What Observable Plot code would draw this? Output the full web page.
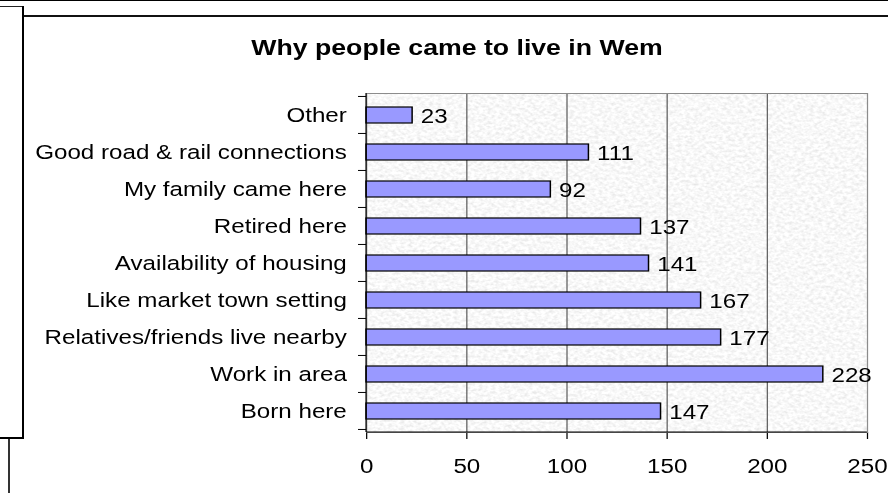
<!DOCTYPE html>
<html>
<head>
<meta charset="utf-8">
<script src="https://cdn.jsdelivr.net/npm/d3@7"></script>
<script src="https://cdn.jsdelivr.net/npm/@observablehq/plot@0.6"></script>
<style>
html, body { margin: 0; padding: 0; background: #fff; }
#root { position: relative; width: 888px; height: 493px; overflow: hidden; font-family: "Liberation Sans", Arial, sans-serif; }
.ln { position: absolute; background: #000; }
#title { position: absolute; left: 26px; width: 862px; top: 38px; text-align: center; font-weight: bold; font-size: 21.5px; line-height: 1; color: #000; transform: scaleX(1.24); transform-origin: 50% 0; white-space: nowrap; }
#chart { position: absolute; left: 0; top: 75px; width: 716px; transform: scaleX(1.24); transform-origin: 0 0; }
</style>
</head>
<body>
<div id="root">
  <div class="ln" style="left:0;top:0;width:888px;height:1px;"></div>
  <div class="ln" style="left:0;top:6px;width:23px;height:1px;background:#222;"></div>
  <div class="ln" style="left:22px;top:6px;width:2px;height:433px;"></div>
  <div class="ln" style="left:24px;top:15px;width:864px;height:2px;background:#111;"></div>
  <div class="ln" style="left:0;top:437px;width:24px;height:2px;"></div>
  <div class="ln" style="left:8px;top:439px;width:2px;height:54px;background:#333;"></div>
  <div id="title"></div>
  <div id="chart"></div>
</div>
<script>
const title = "Why people came to live in Wem";
const categories = [
  "Other",
  "Good road & rail connections",
  "My family came here",
  "Retired here",
  "Availability of housing",
  "Like market town setting",
  "Relatives/friends live nearby",
  "Work in area",
  "Born here"
];
const counts = [23, 111, 92, 137, 141, 167, 177, 228, 147];
const xTicks = [0, 50, 100, 150, 200, 250];
const gridValues = [50, 100, 150, 200];

const data = categories.map((c, i) => ({reason: c, count: counts[i]}));
const PAD = 0.57;

document.getElementById("title").textContent = title;

function texture(index, scales, values, dims) {
  const g = d3.create("svg:g");
  const id = "noise-tex";
  const f = g.append("defs").append("filter").attr("id", id)
    .attr("x", 0).attr("y", 0).attr("width", 1).attr("height", 1);
  f.append("feTurbulence").attr("type", "fractalNoise")
    .attr("baseFrequency", "0.3 0.36").attr("numOctaves", 2).attr("seed", 7);
  f.append("feColorMatrix").attr("type", "matrix")
    .attr("values", "0.4 0 0 0 0.74  0.4 0 0 0 0.74  0.4 0 0 0 0.74  0 0 0 0 1");
  g.append("rect")
    .attr("x", dims.marginLeft).attr("y", dims.marginTop)
    .attr("width", dims.width - dims.marginLeft - dims.marginRight)
    .attr("height", dims.height - dims.marginTop - dims.marginBottom)
    .attr("fill", "#ececec")
    .attr("filter", `url(#${id})`);
  return g.node();
}

function axisLines(index, scales, values, dims) {
  const {x, y} = scales;
  const g = d3.create("svg:g").attr("stroke", "black").attr("fill", "none");
  const x0 = x(xTicks[0]);
  const top = dims.marginTop, bottom = dims.height - dims.marginBottom;
  const step = y(categories[1]) - y(categories[0]);
  const bounds = categories.map(c => y(c) - step * PAD / 2)
    .concat([y(categories[categories.length - 1]) + step * (1 - PAD / 2)]);
  g.append("line").attr("x1", x0).attr("x2", x0).attr("y1", top).attr("y2", bottom);
  g.append("line").attr("x1", x0).attr("x2", x(xTicks[xTicks.length - 1])).attr("y1", bottom).attr("y2", bottom);
  for (const b of bounds) {
    g.append("line").attr("x1", x0 - 6.5).attr("x2", x0).attr("y1", b).attr("y2", b);
  }
  return g.node();
}

const chart = Plot.plot({
  width: 716,
  height: 418,
  marginLeft: 295.2,
  marginRight: 16.9,
  marginTop: 18,
  marginBottom: 61,
  style: {fontFamily: "'Liberation Sans', Arial, sans-serif", fontSize: "19.5px", color: "black", background: "transparent", overflow: "visible"},
  x: {domain: [0, 250], ticks: xTicks, tickSize: 7, tickPadding: 20, label: null},
  y: {domain: categories, paddingInner: PAD, paddingOuter: PAD / 2, tickSize: 0, tickPadding: 16, label: null},
  marks: [
    texture,
    Plot.ruleX(gridValues, {stroke: "#5e5e5e"}),
    Plot.frame({stroke: "#8c8c8c"}),
    Plot.barX(data, {x: "count", y: "reason", fill: "#9999ff", stroke: "black", strokeWidth: 1.2}),
    Plot.text(data, {x: "count", y: "reason", text: d => String(d.count), textAnchor: "start", dx: 6.5, dy: 1, fill: "black", fontSize: 19.5}),
    axisLines
  ]
});
document.getElementById("chart").appendChild(chart);
</script>
</body>
</html>
